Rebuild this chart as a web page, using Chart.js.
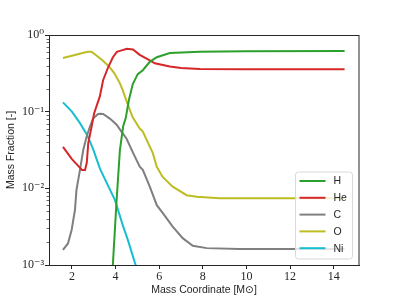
<!DOCTYPE html>
<html>
<head>
<meta charset="utf-8">
<script src="https://cdn.jsdelivr.net/npm/chart.js@4.4.1/dist/chart.umd.min.js"></script>
<style>
html,body{margin:0;padding:0;background:#fff;overflow:hidden;}
canvas{display:block;}
</style>
</head>
<body>
<canvas id="c" width="399" height="299"></canvas>
<script>
// ---- data ----
const speciesLabels = ['H', 'He', 'C', 'O', 'Ni'];

const massH = [3.86, 4.05, 4.20, 4.35, 4.47, 4.61, 4.79, 5.02, 5.25, 5.57, 5.89, 6.49, 7.86, 10.0, 14.5];
const fracH = [0.00083, 0.0071, 0.0316, 0.0646, 0.083, 0.141, 0.229, 0.309, 0.347, 0.447, 0.513, 0.582, 0.603, 0.612, 0.617];

const massHe = [1.59, 2.0, 2.3, 2.46, 2.60, 2.68, 2.75, 2.90, 3.02, 3.28, 3.43, 3.65, 3.88, 4.06, 4.28, 4.52, 4.80, 5.11, 5.57, 5.80, 6.49, 7.0, 7.86, 10.0, 14.5];
const fracHe = [0.0347, 0.0240, 0.0195, 0.0174, 0.0174, 0.0214, 0.0389, 0.0631, 0.0955, 0.158, 0.257, 0.372, 0.513, 0.603, 0.631, 0.661, 0.646, 0.550, 0.468, 0.427, 0.389, 0.372, 0.359, 0.357, 0.357];

const massC = [1.59, 1.82, 1.99, 2.14, 2.21, 2.29, 2.37, 2.52, 2.67, 2.82, 2.97, 3.20, 3.30, 3.43, 3.74, 4.05, 4.27, 4.50, 4.81, 5.11, 5.25, 5.57, 5.89, 6.16, 6.62, 7.08, 7.54, 8.18, 9.69, 14.5];
const fracC = [0.00158, 0.00191, 0.00288, 0.00525, 0.00955, 0.0129, 0.0174, 0.0316, 0.0468, 0.0631, 0.0813, 0.0933, 0.094, 0.0933, 0.0813, 0.0676, 0.0550, 0.0447, 0.0288, 0.0191, 0.0174, 0.0105, 0.00603, 0.00479, 0.00316, 0.00224, 0.00178, 0.00166, 0.00162, 0.00162];

const massO = [1.59, 2.0, 2.4, 2.73, 2.90, 3.05, 3.40, 3.70, 3.95, 4.20, 4.33, 4.50, 4.78, 5.11, 5.25, 5.71, 5.89, 6.16, 6.62, 7.26, 7.72, 8.77, 14.5];
const fracO = [0.501, 0.537, 0.575, 0.603, 0.603, 0.562, 0.468, 0.389, 0.316, 0.234, 0.191, 0.138, 0.0851, 0.0603, 0.0550, 0.0288, 0.0191, 0.0141, 0.0105, 0.00813, 0.00776, 0.00741, 0.00741];

const massNi = [1.59, 2.00, 2.37, 2.69, 2.96, 3.28, 3.60, 3.97, 4.33, 4.56, 4.92, 5.10];
const fracNi = [0.132, 0.100, 0.0708, 0.0501, 0.0331, 0.0182, 0.0117, 0.00708, 0.00331, 0.00214, 0.00100, 0.00076];

const xTickValues = [2, 4, 6, 8, 10, 12, 14];
const yTickValues = [0.001, 0.01, 0.1, 1];
const yTickLabels = ['10\u207B\u00B3', '10\u207B\u00B2', '10\u207B\u00B9', '10\u2070'];

const colors = ['#2ca02c', '#d62728', '#7f7f7f', '#bcbd22', '#17becf'];

// ---- build datasets ----
function zip(xs, ys) { return xs.map((x, i) => ({x: x, y: ys[i]})); }
const series = [[massH, fracH], [massHe, fracHe], [massC, fracC], [massO, fracO], [massNi, fracNi]];
const datasets = series.map((s, i) => ({
  label: speciesLabels[i],
  data: zip(s[0], s[1]),
  borderColor: colors[i],
  backgroundColor: colors[i],
  borderWidth: 2,
  pointRadius: 0,
  tension: 0,
  fill: false
}));

const AXIS = '#262626';
const serif = "'Liberation Serif', 'DejaVu Serif', serif";
const sans = "'Liberation Sans', 'DejaVu Sans', sans-serif";

const framePlugin = {
  id: 'frame',
  afterDatasetsDraw(chart) {
    const ctx = chart.ctx;
    const a = chart.chartArea;
    const ys = chart.scales.y;
    ctx.save();
    // minor log ticks
    ctx.strokeStyle = AXIS;
    ctx.lineWidth = 0.7;
    for (let e = -3; e < 0; e++) {
      for (let k = 2; k <= 9; k++) {
        const py = Math.round(ys.getPixelForValue(k * Math.pow(10, e))) + 0.5;
        ctx.beginPath();
        ctx.moveTo(a.left, py);
        ctx.lineTo(a.left - 2.5, py);
        ctx.stroke();
      }
    }
    // full frame
    ctx.lineWidth = 1;
    ctx.strokeStyle = AXIS;
    ctx.strokeRect(Math.round(a.left) + 0.5, Math.round(a.top) + 0.5, Math.round(a.right - a.left) - 0.5, Math.round(a.bottom - a.top));
    // legend
    const bw = 57, bh = 87;
    const bx = a.right - 6.5 - bw, by = a.bottom - 6 - bh;
    const r = 3;
    ctx.beginPath();
    ctx.moveTo(bx + r, by);
    ctx.lineTo(bx + bw - r, by);
    ctx.quadraticCurveTo(bx + bw, by, bx + bw, by + r);
    ctx.lineTo(bx + bw, by + bh - r);
    ctx.quadraticCurveTo(bx + bw, by + bh, bx + bw - r, by + bh);
    ctx.lineTo(bx + r, by + bh);
    ctx.quadraticCurveTo(bx, by + bh, bx, by + bh - r);
    ctx.lineTo(bx, by + r);
    ctx.quadraticCurveTo(bx, by, bx + r, by);
    ctx.closePath();
    ctx.fillStyle = 'rgba(255,255,255,0.8)';
    ctx.fill();
    ctx.strokeStyle = '#d9d9d9';
    ctx.lineWidth = 1;
    ctx.stroke();
    ctx.font = '10.5px ' + sans;
    ctx.textBaseline = 'middle';
    ctx.textAlign = 'left';
    chart.data.datasets.forEach((ds, i) => {
      const yy = by + 9 + i * 16.8;
      ctx.strokeStyle = ds.borderColor;
      ctx.lineWidth = 2;
      ctx.beginPath();
      ctx.moveTo(bx + 4, yy);
      ctx.lineTo(bx + 30, yy);
      ctx.stroke();
      ctx.fillStyle = '#262626';
      ctx.fillText(ds.label, bx + 38, yy + 0.5);
    });
    ctx.restore();
  }
};

new Chart(document.getElementById('c'), {
  type: 'line',
  data: {datasets: datasets},
  plugins: [framePlugin],
  options: {
    responsive: false,
    animation: false,
    devicePixelRatio: 1,
    layout: {padding: {left: 0, right: 40, top: 35, bottom: 0}},
    plugins: {legend: {display: false}, tooltip: {enabled: false}},
    scales: {
      x: {
        type: 'linear',
        min: 0.95,
        max: 15.16,
        afterBuildTicks(scale) { scale.ticks = xTickValues.map(v => ({value: v})); },
        afterFit(scale) { scale.height = 34; },
        grid: {drawOnChartArea: false, drawTicks: true, tickLength: 4, tickColor: AXIS, tickWidth: 1},
        border: {display: true, color: AXIS, width: 1},
        ticks: {color: '#262626', font: {family: serif, size: 12}, padding: 1, maxRotation: 0, autoSkip: false},
        title: {display: true, text: 'Mass Coordinate [M\u2299]', color: '#262626', font: {family: sans, size: 10.5, lineHeight: 1.2}, padding: {top: 0, bottom: 3}}
      },
      y: {
        type: 'logarithmic',
        min: 0.001,
        max: 1,
        afterBuildTicks(scale) { scale.ticks = yTickValues.map(v => ({value: v, major: true})); },
        afterFit(scale) { scale.width = 49; },
        grid: {drawOnChartArea: false, drawTicks: true, tickLength: 4, tickColor: AXIS, tickWidth: 1},
        border: {display: true, color: AXIS, width: 1},
        ticks: {
          color: '#262626',
          font: {family: serif, size: 12},
          padding: 1,
          autoSkip: false,
          callback(value) {
            const i = yTickValues.findIndex(v => Math.abs(v - value) / v < 1e-6);
            return i >= 0 ? yTickLabels[i] : '';
          }
        },
        title: {display: true, text: 'Mass Fraction [-]', color: '#262626', font: {family: sans, size: 10.5, lineHeight: 1.2}, padding: {top: 4.5, bottom: 0}}
      }
    }
  }
});
</script>
</body>
</html>
